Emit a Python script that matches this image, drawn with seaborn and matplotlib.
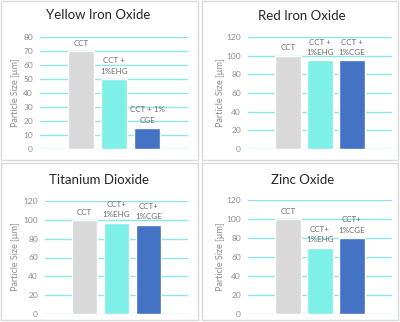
import matplotlib
matplotlib.use("Agg")
import matplotlib.pyplot as plt
import seaborn as sns
import pandas as pd
from matplotlib.patches import Rectangle

sns.set_style("white")
plt.rcParams['font.family'] = ['Lato', 'DejaVu Sans']

categories = ["CCT", "CCT + 1%EHG", "CCT + 1%CGE"]
colors = ["#d9d9d9", "#7ff0e8", "#4472c4"]

titles = ["Yellow Iron Oxide", "Red Iron Oxide", "Titanium Dioxide", "Zinc Oxide"]
yellow_vals = [70, 50, 15]
red_vals = [100, 95, 95]
titanium_vals = [100, 97, 95]
zinc_vals = [100, 70, 80]

yellow_labels = ["CCT", "CCT +\n1%EHG", "CCT + 1%\nCGE"]
red_labels = ["CCT", "CCT +\n1%EHG", "CCT +\n1%CGE"]
titanium_labels = ["CCT", "CCT+\n1%EHG", "CCT+\n1%CGE"]
zinc_labels = ["CCT", "CCT+\n1%EHG", "CCT+\n1%CGE"]

yellow_ticks = [0, 10, 20, 30, 40, 50, 60, 70, 80]
other_ticks = [0, 20, 40, 60, 80, 100, 120]

W, H = 400, 322
fig = plt.figure(figsize=(4.0, 3.22), dpi=100)

def frac_rect(x0, x1, ytop, ybot):
    return [x0 / W, 1 - ybot / H, (x1 - x0) / W, (ybot - ytop) / H]

panels = [
    dict(vals=yellow_vals, labels=yellow_labels, ticks=yellow_ticks, title=titles[0],
         rect=frac_rect(40, 188, 37, 149), half=2.24, tx=98, ty=15, ylx=15, yly=93),
    dict(vals=red_vals, labels=red_labels, ticks=other_ticks, title=titles[1],
         rect=frac_rect(248, 392, 37, 149), half=2.25, tx=302, ty=16, ylx=220, yly=93),
    dict(vals=titanium_vals, labels=titanium_labels, ticks=other_ticks, title=titles[2],
         rect=frac_rect(45, 188, 201, 314), half=2.23, tx=99, ty=180, ylx=16, yly=257),
    dict(vals=zinc_vals, labels=zinc_labels, ticks=other_ticks, title=titles[3],
         rect=frac_rect(248, 392, 200, 314), half=2.25, tx=303, ty=180, ylx=220, yly=257),
]

grid_color = "#8fe6e6"
text_gray = "#8c8c8c"

for p in panels:
    ax = fig.add_axes(p["rect"])
    df = pd.DataFrame({"cat": categories, "val": p["vals"]})
    sns.barplot(data=df, x="cat", y="val", hue="cat", palette=colors, order=categories,
                hue_order=categories, width=0.79, dodge=False, legend=False, ax=ax,
                saturation=1, zorder=3)
    ax.set_xlim(1 - p["half"], 1 + p["half"])
    ax.set_ylim(p["ticks"][0], p["ticks"][-1])
    ax.set_yticks(p["ticks"])
    ax.set_yticklabels([str(t) for t in p["ticks"]], fontsize=6, color=text_gray)
    ax.set_xticks([])
    ax.set_xlabel("")
    ax.set_ylabel("")
    ax.tick_params(axis="y", length=0, pad=5)
    for s in ax.spines.values():
        s.set_visible(False)
    ax.yaxis.grid(True, color=grid_color, linewidth=1.0, zorder=0)
    ax.set_axisbelow(True)
    for i, (v, lab) in enumerate(zip(p["vals"], p["labels"])):
        ax.annotate(lab, xy=(i, v), xytext=(0, 3), textcoords="offset points",
                    ha="center", va="bottom", fontsize=5.8, color="#6b6b6b",
                    linespacing=1.6)
    fig.text(p["tx"] / W, 1 - p["ty"] / H, p["title"], ha="center", va="center",
             fontsize=9.5, color="#262626")
    fig.text(p["ylx"] / W, 1 - p["yly"] / H, "Particle Size [µm]", ha="center",
             va="center", rotation=90, fontsize=6.5, color=text_gray)

border = "#d9d9d9"
for (x0, y0, x1, y1) in [(1, 1, 198, 160), (202, 1, 398, 160),
                         (1, 163, 198, 320), (202, 163, 398, 320)]:
    fig.patches.append(Rectangle((x0 / W, 1 - y1 / H), (x1 - x0) / W, (y1 - y0) / H,
                                 transform=fig.transFigure, fill=False,
                                 edgecolor=border, linewidth=1.0))

fig.savefig("out.png", dpi=100, facecolor="white")
